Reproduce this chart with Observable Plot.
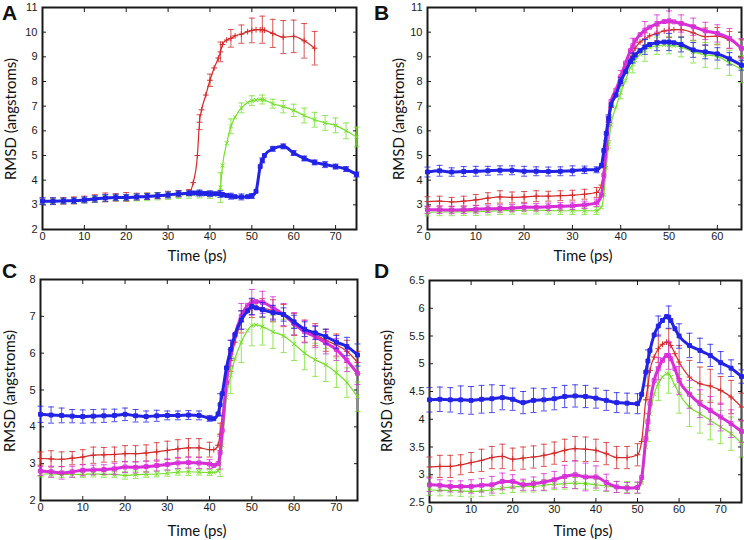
<!DOCTYPE html>
<html><head><meta charset="utf-8">
<script src="https://cdn.jsdelivr.net/npm/d3@7"></script>
<script src="https://cdn.jsdelivr.net/npm/@observablehq/plot@0.6"></script>
<style>
body{margin:0;background:#fff;}
#root{position:relative;width:744px;height:540px;overflow:hidden;background:#fff;}
.panel{position:absolute;}
.letter{position:absolute;font:bold 21px "Liberation Sans",Arial,sans-serif;line-height:1;color:#111;}
.xl{position:absolute;font:15px Lato,"Open Sans",sans-serif;transform:translate(-50%,-50%);white-space:nowrap;color:#111;}
.yl{position:absolute;font:15px Lato,"Open Sans",sans-serif;transform:translate(-50%,-50%) rotate(-90deg);white-space:nowrap;color:#111;}
</style></head><body><div id="root"></div>
<script>
// ---------- Panel A ----------
const gridA = [0,2.5,5,7.5,10,12.5,15,17.5,20,22.5,25,27.5,30,32.5,35,36,37,37.5,38,39,40,41,42,42.5,43,44,45,46,47.5,49,50,51,52,52.5,53,55,57.5,60,62.5,65,67.5,70,72.5,75];
const redA = [3.15,3.15,3.16,3.18,3.22,3.26,3.3,3.3,3.32,3.33,3.35,3.38,3.42,3.45,3.5,3.9,5.0,6.35,6.85,7.45,8.05,8.55,8.95,9.2,9.5,9.68,9.75,9.85,9.92,10.02,10.07,10.1,10.1,10.1,10.08,9.95,9.8,9.83,9.65,9.35,null,null,null,null];
const greenA = [3.13,3.14,3.15,3.15,3.18,3.22,3.26,3.28,3.28,3.3,3.32,3.35,3.37,3.4,3.42,3.42,3.42,3.42,3.42,3.41,3.4,3.4,3.42,3.7,4.6,5.5,6.18,6.55,6.93,7.15,7.22,7.25,7.27,7.27,7.25,7.1,6.98,6.83,6.62,6.45,6.32,6.22,6.0,5.75];
const blueA = [3.15,3.15,3.16,3.17,3.2,3.24,3.28,3.3,3.3,3.32,3.34,3.37,3.4,3.45,3.47,3.48,3.48,3.48,3.47,3.46,3.45,3.45,3.45,3.44,3.42,3.38,3.35,3.33,3.32,3.33,3.36,3.55,4.55,4.8,5.0,5.27,5.37,5.1,4.88,4.72,4.63,4.55,4.45,4.23];
const errTA = [0,2.5,5,7.5,10,12.5,15,17.5,20,22.5,25,27.5,30,32.5,35,37.5,40,42.5,45,47.5,50,52.5,55,57.5,60,62.5,65,67.5,70,72.5,75];
const redErrA = [0.12,0.12,0.13,0.14,0.13,0.15,0.18,0.15,0.18,0.14,0.13,0.12,0.13,0.13,0.12,0.3,0.25,0.4,0.36,0.37,0.5,0.55,0.57,0.67,0.66,0.7,0.68,null,null,null,null];
const greenErrA = [0.1,0.1,0.1,0.1,0.1,0.12,0.12,0.12,0.12,0.14,0.15,0.15,0.15,0.14,0.15,0.14,0.14,0.6,0.3,0.2,0.2,0.18,0.18,0.25,0.25,0.3,0.3,0.3,0.3,0.32,0.4];
const blueErrA = [0.14,0.14,0.12,0.12,0.12,0.13,0.14,0.13,0.12,0.12,0.12,0.12,0.12,0.12,0.1,0.12,0.12,0.14,0.12,0.12,0.1,0.1,0.1,0.1,0.1,0.1,0.1,0.12,0.1,0.1,0.1];

// ---------- Panel B ----------
const gridB = [0,2.5,5,7.5,10,12.5,15,17.5,20,22.5,25,27.5,30,32.5,35,36,36.5,37,37.5,38,39,40,41,42,42.5,43,44,45,46,47.5,49,50,51,52.5,55,57.5,60,62.5,65];
const redB = [3.13,3.15,3.12,3.15,3.2,3.27,3.32,3.3,3.32,3.35,3.35,3.37,3.39,3.43,3.5,3.8,4.5,5.6,6.4,6.95,7.45,8.05,8.55,8.95,9.15,9.35,9.6,9.72,9.85,9.95,10.05,10.08,10.1,10.1,9.97,9.82,9.84,9.68,9.34];
const greenB = [2.7,2.71,2.71,2.72,2.72,2.74,2.76,2.77,2.78,2.78,2.77,2.76,2.76,2.76,2.76,2.9,3.4,4.5,5.45,6.25,6.95,7.55,8.05,8.55,8.7,8.86,9.1,9.27,9.38,9.45,9.48,9.47,9.45,9.4,9.2,9.08,9.02,8.75,8.5];
const magentaB = [2.8,2.8,2.79,2.8,2.82,2.84,2.85,2.87,2.9,2.9,2.92,2.94,2.96,3.0,3.08,3.4,4.2,5.3,6.4,7.2,7.65,8.2,8.75,9.25,9.45,9.65,9.9,10.08,10.2,10.35,10.43,10.46,10.42,10.35,10.22,10.05,9.95,9.75,9.34];
const blueB = [4.33,4.38,4.33,4.35,4.36,4.38,4.4,4.4,4.36,4.36,4.35,4.36,4.38,4.42,4.42,4.6,5.2,5.9,6.5,7.05,7.45,8.0,8.4,8.8,8.95,9.07,9.25,9.4,9.5,9.57,9.6,9.6,9.57,9.5,9.28,9.2,9.12,8.92,8.66];
const errTB = [0,2.5,5,7.5,10,12.5,15,17.5,20,22.5,25,27.5,30,32.5,35,37.5,40,42.5,45,47.5,50,52.5,55,57.5,60,62.5,65];
const redErrB = [0.2,0.2,0.18,0.2,0.22,0.22,0.25,0.22,0.22,0.22,0.2,0.2,0.2,0.2,0.2,0.15,0.15,0.2,0.25,0.3,0.3,0.3,0.3,0.35,0.35,0.35,0.35];
const greenErrB = [0.15,0.15,0.15,0.15,0.15,0.15,0.15,0.15,0.15,0.15,0.15,0.15,0.15,0.15,0.15,0.15,0.25,0.35,0.45,0.35,0.35,0.4,0.45,0.5,0.5,0.5,0.55];
const magentaErrB = [0.15,0.15,0.15,0.15,0.15,0.15,0.15,0.15,0.15,0.15,0.15,0.15,0.15,0.15,0.15,0.2,0.25,0.3,0.35,0.35,0.4,0.35,0.35,0.35,0.35,0.4,0.4];
const blueErrB = [0.2,0.22,0.17,0.2,0.2,0.18,0.18,0.18,0.2,0.18,0.18,0.18,0.2,0.15,0.12,0.15,0.15,0.2,0.3,0.32,0.35,0.3,0.3,0.28,0.25,0.25,0.2];

// ---------- Panel C ----------
const gridC = [0,2.5,5,7.5,10,12.5,15,17.5,20,22.5,25,27.5,30,32.5,35,37.5,40,41,42,42.5,43,44,45,46,47.5,49,50,51,52.5,55,57.5,60,62.5,65,67.5,70,72.5,75];
const redC = [3.14,3.13,3.12,3.15,3.18,3.23,3.24,3.25,3.27,3.27,3.29,3.32,3.36,3.4,3.43,3.43,3.38,3.38,3.5,3.8,4.3,5.2,5.8,6.3,6.85,7.15,7.22,7.26,7.23,7.15,7.02,6.78,6.6,6.5,6.35,6.22,6.05,5.75];
const greenC = [2.72,2.72,2.71,2.71,2.71,2.72,2.71,2.71,2.68,2.7,2.71,2.72,2.74,2.77,2.78,2.77,2.76,2.76,2.8,3.0,3.5,4.8,5.4,5.85,6.3,6.62,6.75,6.77,6.72,6.58,6.47,6.25,6.0,5.82,5.68,5.47,5.2,4.82];
const magentaC = [2.8,2.78,2.75,2.78,2.82,2.83,2.84,2.86,2.91,2.9,2.92,2.95,2.98,3.02,3.03,3.02,2.99,2.95,3.0,3.3,3.9,5.2,6.0,6.5,7.0,7.3,7.38,7.4,7.38,7.23,7.05,6.8,6.58,6.45,6.28,6.1,5.8,5.45];
const blueC = [4.34,4.32,4.31,4.29,4.28,4.29,4.3,4.31,4.34,4.3,4.28,4.3,4.31,4.31,4.32,4.31,4.23,4.22,4.35,4.6,4.9,5.6,6.1,6.5,6.9,7.15,7.27,7.23,7.18,7.1,7.05,6.85,6.65,6.55,6.45,6.3,6.18,5.95];
const errTC = [0,2.5,5,7.5,10,12.5,15,17.5,20,22.5,25,27.5,30,32.5,35,37.5,40,42.5,45,47.5,50,52.5,55,57.5,60,62.5,65,67.5,70,72.5,75];
const redErrC = [0.18,0.22,0.2,0.18,0.2,0.22,0.2,0.2,0.22,0.22,0.22,0.25,0.25,0.25,0.25,0.25,0.2,0.3,0.3,0.3,0.25,0.25,0.3,0.3,0.3,0.3,0.3,0.3,0.3,0.3,0.3];
const greenErrC = [0.08,0.08,0.08,0.08,0.08,0.08,0.08,0.08,0.1,0.1,0.08,0.08,0.08,0.08,0.1,0.08,0.08,0.35,0.5,0.55,0.55,0.5,0.45,0.45,0.45,0.45,0.45,0.45,0.4,0.4,0.4];
const magentaErrC = [0.12,0.15,0.17,0.15,0.15,0.13,0.13,0.15,0.15,0.15,0.15,0.15,0.15,0.15,0.15,0.15,0.12,0.45,0.35,0.35,0.35,0.3,0.3,0.3,0.3,0.3,0.3,0.3,0.3,0.3,0.3];
const blueErrC = [0.22,0.22,0.2,0.18,0.18,0.18,0.18,0.17,0.17,0.17,0.15,0.15,0.12,0.12,0.12,0.12,0.08,0.3,0.25,0.25,0.22,0.2,0.2,0.18,0.18,0.2,0.18,0.2,0.18,0.25,0.3];

// ---------- Panel D ----------
const gridD = [0,2.5,5,7.5,10,12.5,15,17.5,20,22.5,25,27.5,30,32.5,35,37.5,40,42.5,45,47.5,50,51,52,52.5,53,54,55,56,57,57.5,58,59,60,62.5,65,67.5,70,72.5,75];
const redD = [3.14,3.15,3.15,3.18,3.22,3.26,3.31,3.33,3.28,3.3,3.32,3.35,3.39,3.44,3.47,3.46,3.44,3.38,3.31,3.31,3.36,3.6,4.35,4.6,4.88,5.12,5.27,5.35,5.39,5.38,5.33,5.18,5.03,4.76,4.64,4.6,4.52,4.4,4.22];
const greenD = [2.73,2.72,2.72,2.71,2.7,2.71,2.73,2.76,2.78,2.79,2.79,2.81,2.83,2.84,2.85,2.84,2.82,2.8,2.78,2.78,2.76,2.85,3.5,3.8,4.1,4.45,4.64,4.76,4.82,4.82,4.76,4.61,4.46,4.22,4.1,3.98,3.86,3.74,3.57];
const magentaD = [2.82,2.81,2.79,2.79,2.79,2.81,2.82,2.88,2.88,2.82,2.84,2.87,2.91,2.97,3.0,2.96,2.96,2.86,2.78,2.76,2.77,2.95,3.65,3.95,4.28,4.7,4.91,5.06,5.15,5.15,5.09,4.91,4.7,4.45,4.28,4.16,4.04,3.92,3.78];
const blueD = [4.35,4.36,4.35,4.35,4.34,4.36,4.37,4.39,4.36,4.3,4.34,4.35,4.37,4.41,4.42,4.41,4.38,4.34,4.3,4.29,4.28,4.45,4.85,5.05,5.24,5.52,5.68,5.78,5.85,5.84,5.78,5.63,5.5,5.33,5.24,5.15,5.02,4.92,4.77];
const errTD = [0,2.5,5,7.5,10,12.5,15,17.5,20,22.5,25,27.5,30,32.5,35,37.5,40,42.5,45,47.5,50,52.5,55,57.5,60,62.5,65,67.5,70,72.5,75];
const redErrD = [0.18,0.2,0.2,0.18,0.18,0.2,0.2,0.22,0.2,0.2,0.2,0.2,0.2,0.2,0.22,0.22,0.2,0.2,0.2,0.2,0.2,0.25,0.25,0.25,0.3,0.3,0.3,0.3,0.25,0.3,0.25];
const greenErrD = [0.1,0.1,0.1,0.1,0.1,0.1,0.1,0.1,0.1,0.1,0.1,0.1,0.1,0.1,0.1,0.1,0.1,0.1,0.1,0.1,0.1,0.2,0.3,0.35,0.35,0.35,0.35,0.35,0.3,0.3,0.25];
const magentaErrD = [0.12,0.1,0.1,0.1,0.12,0.12,0.15,0.15,0.12,0.1,0.12,0.15,0.15,0.2,0.25,0.25,0.2,0.15,0.1,0.1,0.1,0.15,0.2,0.25,0.25,0.25,0.25,0.25,0.25,0.25,0.2];
const blueErrD = [0.22,0.22,0.22,0.25,0.25,0.25,0.25,0.22,0.2,0.2,0.22,0.2,0.2,0.2,0.2,0.2,0.18,0.18,0.18,0.18,0.18,0.2,0.18,0.2,0.22,0.22,0.22,0.2,0.2,0.15,0.12];

// ---------- ticks / labels ----------
const xTicks75 = [0,10,20,30,40,50,60,70];
const xTicks65 = [0,10,20,30,40,50,60];
const yTicksAB = [2,3,4,5,6,7,8,9,10,11];
const yTicksC = [2,3,4,5,6,7,8];
const yTicksD = [2.5,3,3.5,4,4.5,5,5.5,6,6.5];
const panelLetters = ["A","B","C","D"];
const xLabel = "Time (ps)";
const yLabel = "RMSD (angstroms)";

const colors = {red:"#d42a2a", green:"#74e02a", magenta:"#d82ed8", blue:"#2323e6"};

const capSymbol = {draw(ctx, size){ const w = Math.sqrt(size/Math.PI); ctx.moveTo(-w,0); ctx.lineTo(w,0);} };

function seriesMarks(name, grid, vals, errT, errs){
  const c = colors[name];
  const rows = grid.map((t,i)=>({t, v: vals[i]})).filter(d=>d.v!=null);
  const err = errT.map((t,i)=>{const j = grid.indexOf(t); return {t, v: j>=0 ? vals[j] : null, e: errs[i]};}).filter(d=>d.v!=null && d.e!=null);
  const thick = (name==="blue"||name==="magenta");
  const sym = name==="red" ? "plus" : name==="green" ? "times" : "square";
  return [
    Plot.ruleX(err, {x:"t", y1:d=>d.v-d.e, y2:d=>d.v+d.e, stroke:c, strokeOpacity:0.8, strokeWidth:1}),
    Plot.dot(err, {x:"t", y:d=>d.v-d.e, symbol:capSymbol, r:3, stroke:c, fill:"none", strokeOpacity:0.8, strokeWidth:1}),
    Plot.dot(err, {x:"t", y:d=>d.v+d.e, symbol:capSymbol, r:3, stroke:c, fill:"none", strokeOpacity:0.8, strokeWidth:1}),
    Plot.line(rows, {x:"t", y:"v", stroke:c, strokeWidth: thick ? 3 : 1.2, curve:"monotone-x"}),
    Plot.dot(rows, {x:"t", y:"v", symbol:sym, r: thick ? 2.2 : 2, stroke:c, fill: name==="blue" ? c : "none", strokeWidth:1})
  ];
}

function panel(cfg){
  const marks = [Plot.frame({stroke:"#1a1a1a", strokeWidth:2})];
  marks.push(Plot.axisX(cfg.xTicks, {anchor:"bottom", tickSize:-4, tickPadding:7, label:null, fontSize:11}));
  marks.push(Plot.axisX(cfg.xTicks, {anchor:"top", tickSize:-4, tickFormat:()=>"", label:null}));
  marks.push(Plot.axisY(cfg.yTicks, {anchor:"left", tickSize:-4, tickPadding:9, tickFormat:d=>String(d), label:null, fontSize:11}));
  marks.push(Plot.axisY(cfg.yTicks, {anchor:"right", tickSize:-4, tickFormat:()=>"", label:null}));
  for (const s of cfg.series) marks.push(...seriesMarks(...s));
  return Plot.plot({
    width:372, height:270,
    marginTop:cfg.m[0], marginRight:cfg.m[1], marginBottom:cfg.m[2], marginLeft:cfg.m[3],
    x:{domain:cfg.xd}, y:{domain:cfg.yd},
    style:{fontFamily:"'Liberation Sans', Arial, sans-serif", fontSize:"11px", color:"#1a1a1a", background:"transparent"},
    marks
  });
}

const panels = [
  {left:0, top:0, m:[7,16,41,42], xd:[0,75], yd:[2,11], xTicks:xTicks75, yTicks:yTicksAB,
   series:[["red",gridA,redA,errTA,redErrA],["green",gridA,greenA,errTA,greenErrA],["blue",gridA,blueA,errTA,blueErrA]],
   xl:[197,255], yl:[9.5,119], let:[2,2]},
  {left:372, top:0, m:[7,3,41,55], xd:[0,65], yd:[2,11], xTicks:xTicks65, yTicks:yTicksAB,
   series:[["red",gridB,redB,errTB,redErrB],["green",gridB,greenB,errTB,greenErrB],["magenta",gridB,magentaB,errTB,magentaErrB],["blue",gridB,blueB,errTB,blueErrB]],
   xl:[583,255], yl:[398,119], let:[374,2]},
  {left:0, top:270, m:[9,15,40,40], xd:[0,75], yd:[2,8], xTicks:xTicks75, yTicks:yTicksC,
   series:[["red",gridC,redC,errTC,redErrC],["green",gridC,greenC,errTC,greenErrC],["magenta",gridC,magentaC,errTC,magentaErrC],["blue",gridC,blueC,errTC,blueErrC]],
   xl:[197,530], yl:[9,391], let:[2,260]},
  {left:372, top:270, m:[10,3,38,57], xd:[0,75], yd:[2.5,6.5], xTicks:xTicks75, yTicks:yTicksD,
   series:[["red",gridD,redD,errTD,redErrD],["green",gridD,greenD,errTD,greenErrD],["magenta",gridD,magentaD,errTD,magentaErrD],["blue",gridD,blueD,errTD,blueErrD]],
   xl:[583,530], yl:[386,391], let:[374,260]}
];

const root = document.getElementById("root");
panels.forEach((p,i)=>{
  const wrap = document.createElement("div");
  wrap.className = "panel"; wrap.style.left = p.left+"px"; wrap.style.top = p.top+"px";
  wrap.appendChild(panel(p));
  root.appendChild(wrap);
  const L = document.createElement("div"); L.className="letter"; L.textContent = panelLetters[i];
  L.style.left = p.let[0]+"px"; L.style.top = p.let[1]+"px"; root.appendChild(L);
  const X = document.createElement("div"); X.className="xl"; X.textContent = xLabel;
  X.style.left = p.xl[0]+"px"; X.style.top = p.xl[1]+"px"; root.appendChild(X);
  const Y = document.createElement("div"); Y.className="yl"; Y.textContent = yLabel;
  Y.style.left = p.yl[0]+"px"; Y.style.top = p.yl[1]+"px"; root.appendChild(Y);
});
</script>
</body></html>
